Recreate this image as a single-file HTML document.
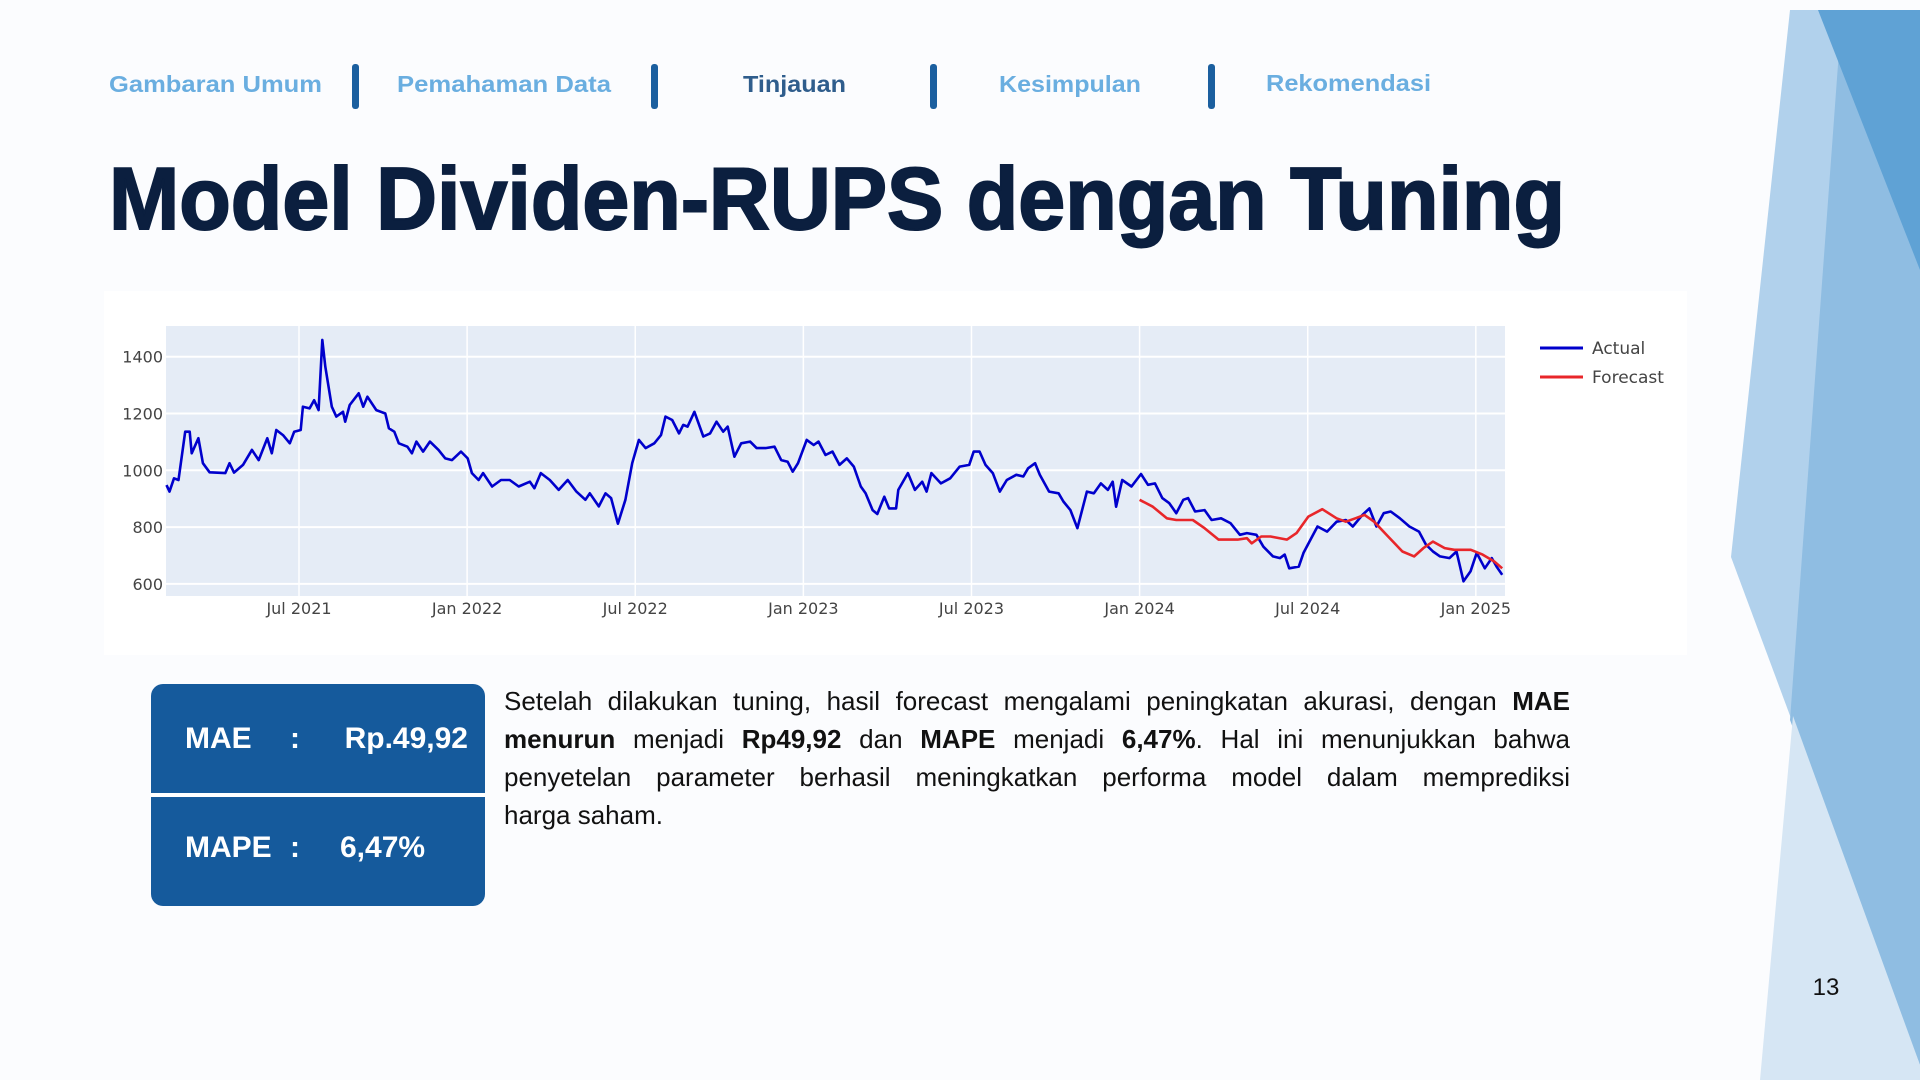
<!DOCTYPE html>
<html><head><meta charset="utf-8"><style>
html,body{margin:0;padding:0;background:#fbfcfe;}
body{width:1920px;height:1080px;position:relative;overflow:hidden;font-family:"Liberation Sans",sans-serif;}
svg{position:absolute;left:0;top:0;}
#para{position:absolute;left:504px;top:682px;width:1066px;font-size:26px;line-height:38px;color:#111;}
#para span{display:block;white-space:nowrap;}
#para span.j{text-align:justify;text-align-last:justify;white-space:normal;}
#para b{font-weight:bold;}
</style></head><body>
<svg id="main" width="1920" height="1080" viewBox="0 0 1920 1080">
  <polygon points="1790,10 1920,10 1920,1065 1731,557" fill="#b1d1ec"/>
  <polygon points="1842,10 1920,10 1920,1065 1790,720" fill="#8fbde2"/>
  <polygon points="1760,1080 1793,716 1920,1065 1920,1080" fill="#d6e6f4"/>
  <polygon points="1818,10 1920,10 1920,270" fill="#5fa2d5"/>
  <text x="1826" y="995" font-size="24" fill="#111" text-anchor="middle" font-family="Liberation Sans, sans-serif">13</text>

  <g font-family="Liberation Sans, sans-serif" font-weight="bold" font-size="23">
    <text x="109" y="92" fill="#6aaee0" textLength="213" lengthAdjust="spacingAndGlyphs">Gambaran Umum</text>
    <text x="397" y="92" fill="#6aaee0" textLength="214" lengthAdjust="spacingAndGlyphs">Pemahaman Data</text>
    <text x="743" y="92" fill="#2f5d8c" textLength="103" lengthAdjust="spacingAndGlyphs">Tinjauan</text>
    <text x="999" y="92" fill="#6aaee0" textLength="142" lengthAdjust="spacingAndGlyphs">Kesimpulan</text>
    <text x="1266" y="91" fill="#6aaee0" textLength="165" lengthAdjust="spacingAndGlyphs">Rekomendasi</text>
  </g>
  <rect x="352" y="64" width="7" height="45" rx="3" fill="#1b5f9f"/>
  <rect x="651" y="64" width="7" height="45" rx="3" fill="#1b5f9f"/>
  <rect x="930" y="64" width="7" height="45" rx="3" fill="#1b5f9f"/>
  <rect x="1208" y="64" width="7" height="45" rx="3" fill="#1b5f9f"/>

  <text x="109" y="229" font-family="Liberation Sans, sans-serif" font-weight="bold" font-size="88" fill="#0b1f3f" stroke="#0b1f3f" stroke-width="2" textLength="1456" lengthAdjust="spacingAndGlyphs">Model Dividen-RUPS dengan Tuning</text>

  <rect x="104" y="291" width="1583" height="364" fill="#ffffff"/>
  <rect x="166" y="326" width="1339" height="270" fill="#e5ecf6"/>
  <g id="grid"></g>
  <g id="ticks" font-family="DejaVu Sans, sans-serif" font-size="16" fill="#444"></g>
  <g id="series"></g>
  <g font-family="DejaVu Sans, sans-serif" font-size="17" fill="#444">
    <line x1="1540" y1="348" x2="1583" y2="348" stroke="#0000cc" stroke-width="3"/>
    <text x="1592" y="354">Actual</text>
    <line x1="1540" y1="377" x2="1583" y2="377" stroke="#e8262a" stroke-width="3"/>
    <text x="1592" y="383">Forecast</text>
  </g>

  <g>
    <rect x="151" y="684" width="334" height="222" rx="12" fill="#155a9c"/>
    <rect x="151" y="793" width="334" height="4" fill="#ffffff"/>
    <g font-family="Liberation Sans, sans-serif" font-weight="bold" font-size="30" fill="#ffffff">
      <text x="185" y="748">MAE</text>
      <text x="290" y="748">:</text>
      <text x="468" y="748" text-anchor="end">Rp.49,92</text>
      <text x="185" y="857">MAPE</text>
      <text x="290" y="857">:</text>
      <text x="340" y="857">6,47%</text>
    </g>
  </g>
</svg>
<div id="para"><span class="j">Setelah dilakukan tuning, hasil forecast mengalami peningkatan akurasi, dengan <b>MAE</b></span><span class="j"><b>menurun</b> menjadi <b>Rp49,92</b> dan <b>MAPE</b> menjadi <b>6,47%</b>. Hal ini menunjukkan bahwa</span><span class="j">penyetelan parameter berhasil meningkatkan performa model dalam memprediksi</span><span>harga saham.</span></div>
<script>
const actualMonths = [-4.73,-4.62,-4.46,-4.30,-4.06,-3.90,-3.83,-3.59,-3.43,-3.19,-2.63,-2.48,-2.32,-2.00,-1.68,-1.44,-1.13,-0.97,-0.81,-0.57,-0.33,-0.17,0.06,0.14,0.38,0.54,0.70,0.83,0.94,1.17,1.33,1.57,1.65,1.81,2.13,2.29,2.44,2.76,3.08,3.21,3.40,3.56,3.87,4.03,4.19,4.43,4.67,4.98,5.22,5.46,5.78,6.02,6.17,6.41,6.57,6.89,7.21,7.52,7.84,8.24,8.40,8.63,8.95,9.27,9.59,9.90,10.22,10.38,10.70,10.94,11.14,11.38,11.65,11.89,12.13,12.37,12.68,12.92,13.08,13.32,13.56,13.71,13.87,14.11,14.43,14.67,14.90,15.14,15.30,15.54,15.78,16.10,16.33,16.65,16.97,17.21,17.44,17.62,17.81,18.12,18.37,18.54,18.79,19.04,19.29,19.55,19.80,20.05,20.22,20.47,20.64,20.89,21.06,21.31,21.39,21.73,21.98,22.24,22.40,22.57,22.91,23.24,23.58,23.92,24.08,24.29,24.50,24.76,25.01,25.26,25.60,25.85,26.02,26.27,26.44,26.77,27.11,27.28,27.53,27.78,28.12,28.37,28.62,28.87,29.04,29.16,29.38,29.71,30.05,30.30,30.55,30.81,31.06,31.31,31.56,31.73,31.98,32.32,32.57,32.91,33.24,33.58,33.83,34.17,34.42,34.76,35.01,35.18,35.34,35.68,35.85,36.10,36.35,36.69,37.03,37.36,37.61,37.95,38.20,38.45,38.71,38.96,39.29,39.63,39.97,40.22,40.47,40.72,41.06,41.31,41.56,41.81,42.03,42.32,42.57,42.74,42.94];
const actualValues = [948,925,972,966,1136,1136,1060,1113,1025,993,990,1025,992,1019,1072,1036,1113,1060,1142,1124,1095,1136,1142,1224,1218,1247,1212,1459,1365,1224,1189,1206,1171,1230,1271,1224,1259,1212,1200,1148,1136,1095,1083,1060,1101,1066,1101,1072,1042,1036,1066,1042,990,966,990,943,966,966,943,960,937,990,966,931,966,925,896,919,873,919,902,812,896,1025,1107,1078,1095,1124,1189,1177,1130,1160,1154,1206,1119,1130,1171,1136,1154,1048,1095,1101,1078,1078,1083,1036,1030,995,1025,1107,1089,1101,1054,1066,1019,1042,1013,943,919,860,846,907,866,866,931,990,931,960,925,990,954,972,1013,1019,1066,1066,1019,990,925,966,984,978,1007,1025,984,925,919,890,860,796,925,919,954,931,960,872,966,943,987,949,954,902,884,849,896,902,855,860,825,831,814,773,779,773,731,697,691,703,655,661,709,756,802,784,819,825,802,843,866,802,849,855,831,802,784,738,714,697,691,714,609,644,709,655,691,661,632];
const forecastMonths = [30.0,30.47,30.97,31.31,31.90,32.32,32.82,33.50,33.83,34.0,34.34,34.67,35.26,35.60,36.02,36.52,37.03,37.36,37.70,38.03,38.37,38.87,39.38,39.80,40.13,40.47,40.89,41.23,41.82,42.24,42.66,42.94];
const forecastValues = [896,872,831,825,825,796,756,756,761,743,767,767,756,779,837,863,831,819,831,843,819,767,714,697,726,749,726,720,720,703,679,655];
const yTicks = [600,800,1000,1200,1400];
const xTickMonths = [0,6,12,18,24,30,36,42];
const xTickLabels = ["Jul 2021","Jan 2022","Jul 2022","Jan 2023","Jul 2023","Jan 2024","Jul 2024","Jan 2025"];

const NS = "http://www.w3.org/2000/svg";
function xScale(m){ return 299 + m*28.02; }
function yScale(v){ return 470.3 - (v-1000)*0.284; }

const grid = document.getElementById('grid');
const ticks = document.getElementById('ticks');
yTicks.forEach(function(t){
  const l = document.createElementNS(NS,'line');
  l.setAttribute('x1',166); l.setAttribute('x2',1505);
  l.setAttribute('y1',yScale(t)); l.setAttribute('y2',yScale(t));
  l.setAttribute('stroke','#ffffff'); l.setAttribute('stroke-width','2');
  
  
  grid.appendChild(l);
  const tx = document.createElementNS(NS,'text');
  tx.setAttribute('x',163); tx.setAttribute('y',yScale(t)+6);
  tx.setAttribute('text-anchor','end');
  tx.textContent = t;
  
  
  ticks.appendChild(tx);
});
xTickMonths.forEach(function(m,i){
  const l = document.createElementNS(NS,'line');
  l.setAttribute('x1',xScale(m)); l.setAttribute('x2',xScale(m));
  l.setAttribute('y1',326); l.setAttribute('y2',596);
  l.setAttribute('stroke','#ffffff'); l.setAttribute('stroke-width','1.5');
  
  
  grid.appendChild(l);
  const tx = document.createElementNS(NS,'text');
  tx.setAttribute('x',xScale(m)); tx.setAttribute('y',614);
  tx.setAttribute('text-anchor','middle');
  tx.textContent = xTickLabels[i];
  
  
  ticks.appendChild(tx);
});
function pathFor(ms, vs){
  return ms.map(function(m,i){ return (i?'L':'M') + xScale(m).toFixed(1) + ',' + yScale(vs[i]).toFixed(1); }).join(' ');
}
const series = document.getElementById('series');
const pa = document.createElementNS(NS,'path');
pa.setAttribute('d', pathFor(actualMonths, actualValues));
pa.setAttribute('fill','none'); pa.setAttribute('stroke','#0000cc'); pa.setAttribute('stroke-width','2.6'); pa.setAttribute('stroke-linejoin','round');


series.appendChild(pa);
const pf = document.createElementNS(NS,'path');
pf.setAttribute('d', pathFor(forecastMonths, forecastValues));
pf.setAttribute('fill','none'); pf.setAttribute('stroke','#e8262a'); pf.setAttribute('stroke-width','2.6'); pf.setAttribute('stroke-linejoin','round');


series.appendChild(pf);
</script>
</body></html>
